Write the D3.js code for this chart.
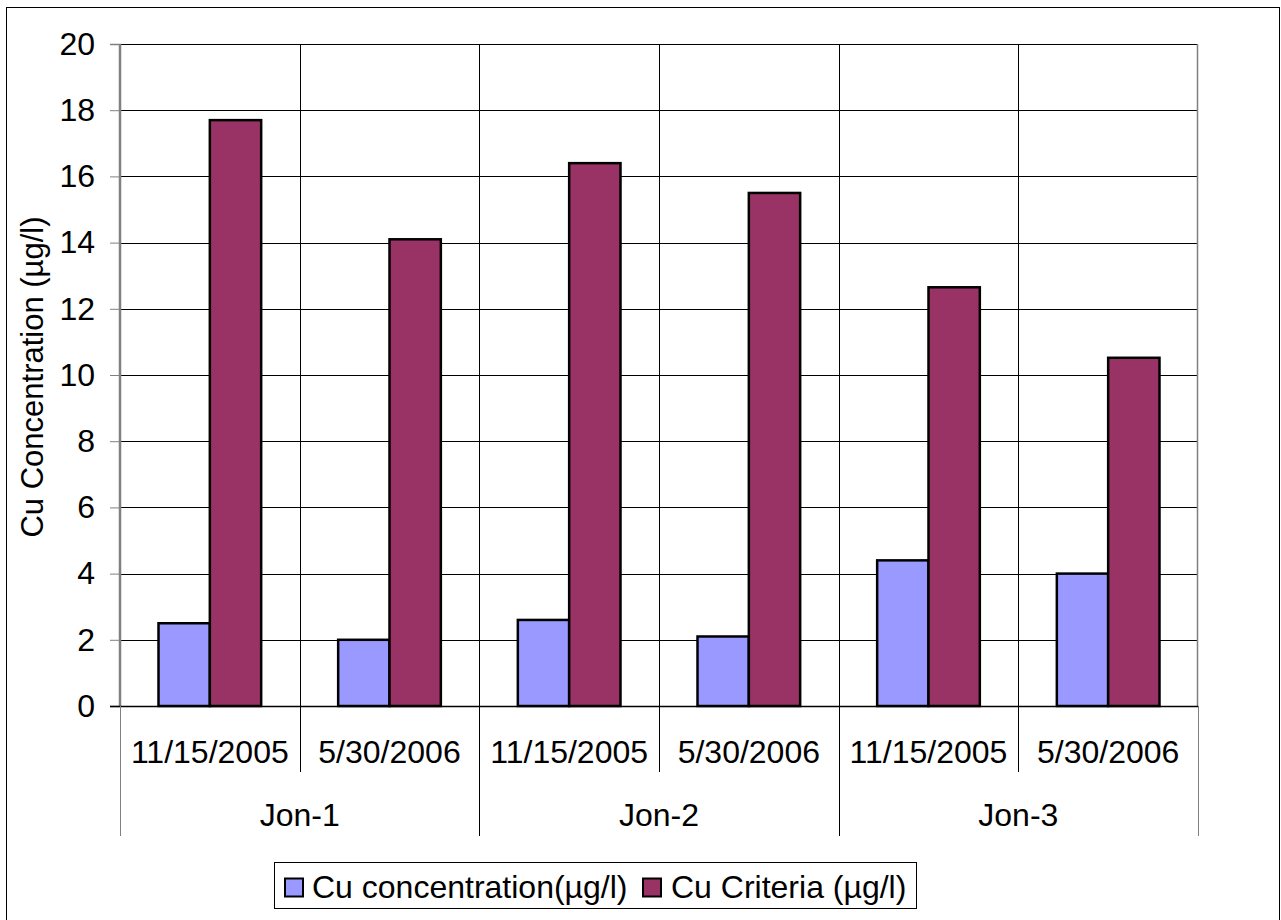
<!DOCTYPE html>
<html>
<head>
<meta charset="utf-8">
<script src="https://cdn.jsdelivr.net/npm/d3@7/dist/d3.min.js"></script>
<style>
  html, body { margin: 0; padding: 0; background: #fff; }
  svg { display: block; }
  text { font-family: "Liberation Sans", Arial, sans-serif; fill: #000; }
</style>
</head>
<body>
<svg id="chart" width="1281" height="920"></svg>
<script>
// ---- data ----
const sites = ["Jon-1", "Jon-2", "Jon-3"];
const dates = ["11/15/2005", "5/30/2006"];
const seriesNames = ["Cu concentration(µg/l)", "Cu Criteria (µg/l)"];
const cuConcentration = [2.5, 2.0, 2.6, 2.1, 4.4, 4.0];
const cuCriteria = [17.7, 14.1, 16.4, 15.5, 12.65, 10.52];
const yTicks = [0, 2, 4, 6, 8, 10, 12, 14, 16, 18, 20];
const yTitle = "Cu Concentration (µg/l)";
const colors = ["#9999FF", "#993366"];

// ---- layout ----
const svg = d3.select("#chart");
const plot = { left: 120, right: 1198, top: 44, bottom: 706 };
const fontSize = 32;

// categories: site x date
const cats = [];
sites.forEach(s => dates.forEach(d => cats.push({ site: s, date: d, key: s + "|" + d })));
const rows = cats.map((c, i) => ({ ...c, values: [cuConcentration[i], cuCriteria[i]] }));

const x = d3.scaleBand().domain(cats.map(c => c.key)).range([plot.left, plot.right]).padding(0);
const xs = d3.scaleBand().domain(seriesNames).range([0, x.bandwidth()]).paddingInner(0).paddingOuter(0.75);
const y = d3.scaleLinear().domain([0, 20]).range([plot.bottom, plot.top]);

// outer chart border
svg.append("rect").attr("x", 6.5).attr("y", 7.5).attr("width", 1273).attr("height", 940)
  .attr("fill", "none").attr("stroke", "#000").attr("stroke-width", 1);

// horizontal gridlines
svg.append("g").selectAll("line").data(yTicks.filter(t => t > 0)).join("line")
  .attr("x1", plot.left).attr("x2", plot.right)
  .attr("y1", d => Math.round(y(d)) + 0.5).attr("y2", d => Math.round(y(d)) + 0.5)
  .attr("stroke", "#000").attr("stroke-width", 1);

// vertical gridlines between categories (inside plot)
const boundaries = cats.slice(1).map(c => x(c.key));
svg.append("g").selectAll("line").data(boundaries).join("line")
  .attr("x1", d => Math.round(d) + 0.5).attr("x2", d => Math.round(d) + 0.5)
  .attr("y1", plot.top).attr("y2", plot.bottom)
  .attr("stroke", "#000").attr("stroke-width", 1);

// plot area left/right borders (gray)
[plot.left, plot.right].forEach(px => {
  svg.append("line").attr("x1", px - 0.5).attr("x2", px - 0.5)
    .attr("y1", plot.top).attr("y2", plot.bottom)
    .attr("stroke", "#808080").attr("stroke-width", 1.5);
});

// bars
const groups = svg.append("g").selectAll("g").data(rows).join("g")
  .attr("transform", d => `translate(${x(d.key)},0)`);
groups.selectAll("rect").data(d => d.values.map((v, i) => ({ v, i }))).join("rect")
  .attr("x", d => xs(seriesNames[d.i]))
  .attr("width", xs.bandwidth())
  .attr("y", d => y(d.v))
  .attr("height", d => y(0) - y(d.v))
  .attr("fill", d => colors[d.i])
  .attr("stroke", "#000").attr("stroke-width", 2.5);

// y axis
const yAxis = d3.axisLeft(y).tickValues(yTicks).tickSize(10).tickPadding(15).tickFormat(d3.format("d"));
const ya = svg.append("g").attr("transform", `translate(${plot.left},0)`).call(yAxis);
ya.select(".domain").attr("stroke", "#808080").attr("stroke-width", 1.5);
ya.selectAll(".tick line").attr("stroke", "#808080").attr("stroke-width", 1);
ya.selectAll(".tick text").attr("font-size", fontSize).attr("font-family", "Liberation Sans, Arial, sans-serif").attr("fill", "#000");

// x axis baseline
svg.append("line").attr("x1", plot.left - 10).attr("x2", plot.right)
  .attr("y1", plot.bottom + 0.5).attr("y2", plot.bottom + 0.5)
  .attr("stroke", "#000").attr("stroke-width", 1.5);

// x axis: date labels + separators
const dateSepBottom = 772;
const siteSepBottom = 836;
svg.append("g").selectAll("line").data(cats.map(c => x(c.key)).concat([plot.right])).join("line")
  .attr("x1", (d) => Math.round(d) + 0.5).attr("x2", d => Math.round(d) + 0.5)
  .attr("y1", plot.bottom)
  .attr("y2", (d, i) => (i % 2 === 0) ? siteSepBottom : dateSepBottom)
  .attr("stroke", (d, i) => (i === 0 || i === cats.length) ? "#808080" : "#000")
  .attr("stroke-width", 1);

svg.append("g").selectAll("text").data(cats).join("text")
  .attr("x", d => x(d.key) + x.bandwidth() / 2)
  .attr("y", 752)
  .attr("text-anchor", "middle").attr("dominant-baseline", "central")
  .attr("font-size", fontSize)
  .text(d => d.date);

// site labels
svg.append("g").selectAll("text").data(sites).join("text")
  .attr("x", s => (x(s + "|" + dates[0]) + x(s + "|" + dates[dates.length - 1]) + x.bandwidth()) / 2)
  .attr("y", 815)
  .attr("text-anchor", "middle").attr("dominant-baseline", "central")
  .attr("font-size", fontSize)
  .text(s => s);

// y title
svg.append("text")
  .attr("transform", `translate(32,${(plot.top + plot.bottom) / 2 + 2}) rotate(-90)`)
  .attr("text-anchor", "middle").attr("dominant-baseline", "central")
  .attr("font-size", 31)
  .text(yTitle);

// legend
const lg = svg.append("g");
lg.append("rect").attr("x", 274.5).attr("y", 862.5).attr("width", 642).attr("height", 46)
  .attr("fill", "#fff").attr("stroke", "#000").attr("stroke-width", 1);
const legendItems = [
  { name: seriesNames[0], color: colors[0], sx: 285, tx: 312 },
  { name: seriesNames[1], color: colors[1], sx: 643, tx: 671 }
];
legendItems.forEach(it => {
  lg.append("rect").attr("x", it.sx).attr("y", 878.5).attr("width", 18).attr("height", 18)
    .attr("fill", it.color).attr("stroke", "#000").attr("stroke-width", 2);
  lg.append("text").attr("x", it.tx).attr("y", 887).attr("dominant-baseline", "central")
    .attr("font-size", fontSize).text(it.name);
});
</script>
</body>
</html>
